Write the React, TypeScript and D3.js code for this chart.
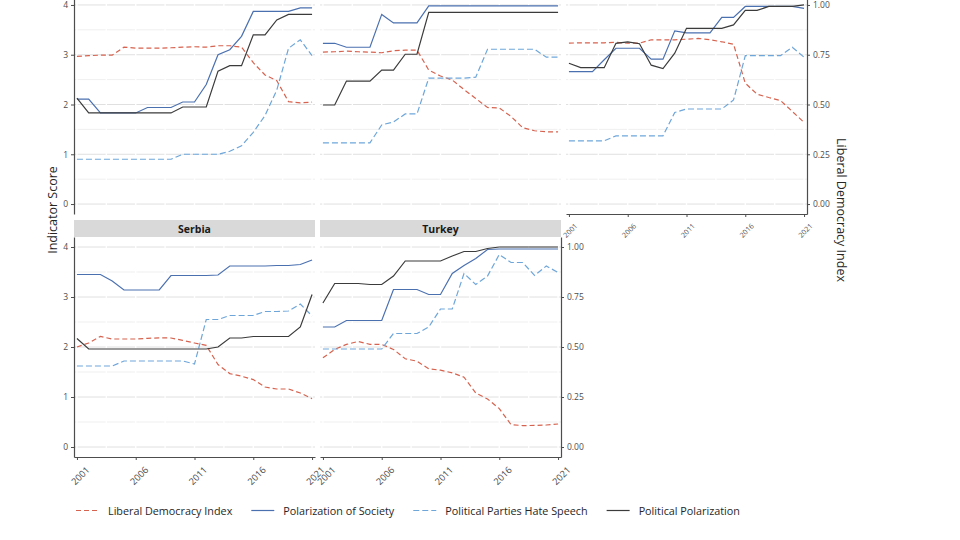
import * as d3 from "d3";
import { useEffect, useRef } from "react";

const years = [
  2001, 2002, 2003, 2004, 2005, 2006, 2007, 2008, 2009, 2010, 2011, 2012, 2013,
  2014, 2015, 2016, 2017, 2018, 2019, 2020, 2021,
];

const seriesNames = [
  "Liberal Democracy Index",
  "Polarization of Society",
  "Political Parties Hate Speech",
  "Political Polarization",
];
const seriesColors = ["#d6634f", "#4a70b0", "#6ea6da", "#3b3b3b"];
const seriesDashes = ["5,3", null, "6,3", null];

const yTicks = [0, 1, 2, 3, 4];
const ldiTicks = [0, 0.25, 0.5, 0.75, 1];
const xTicks = [2001, 2006, 2011, 2016, 2021];

// top-left panel (strip cut off)
const ldiA = [0.742, 0.745, 0.748, 0.748, 0.788, 0.783, 0.783, 0.783, 0.785, 0.788, 0.79, 0.788, 0.795, 0.795, 0.788, 0.71, 0.648, 0.62, 0.514, 0.508, 0.512];
const societyA = [2.11, 2.11, 1.83, 1.83, 1.83, 1.83, 1.94, 1.94, 1.94, 2.05, 2.05, 2.4, 3.0, 3.1, 3.37, 3.87, 3.87, 3.87, 3.87, 3.94, 3.94];
const hateA = [0.9, 0.9, 0.9, 0.9, 0.9, 0.9, 0.9, 0.9, 0.9, 1.0, 1.0, 1.0, 1.0, 1.06, 1.17, 1.44, 1.78, 2.29, 3.13, 3.3, 2.98];
const politicalA = [2.13, 1.83, 1.83, 1.83, 1.83, 1.83, 1.83, 1.83, 1.83, 1.95, 1.95, 1.95, 2.67, 2.78, 2.78, 3.4, 3.4, 3.7, 3.81, 3.81, 3.81];

// top-middle panel (strip cut off)
const ldiB = [0.763, 0.765, 0.768, 0.765, 0.763, 0.76, 0.77, 0.773, 0.773, 0.673, 0.643, 0.623, 0.575, 0.53, 0.485, 0.483, 0.44, 0.383, 0.368, 0.363, 0.363];
const societyB = [3.23, 3.23, 3.15, 3.15, 3.15, 3.81, 3.64, 3.64, 3.64, 3.98, 3.98, 3.98, 3.98, 3.98, 3.98, 3.98, 3.98, 3.98, 3.98, 3.98, 3.98];
const hateB = [1.23, 1.23, 1.23, 1.23, 1.23, 1.59, 1.65, 1.81, 1.81, 2.53, 2.53, 2.53, 2.53, 2.55, 3.11, 3.11, 3.11, 3.11, 3.11, 2.95, 2.95];
const politicalB = [1.99, 1.99, 2.47, 2.47, 2.47, 2.69, 2.69, 3.01, 3.01, 3.85, 3.85, 3.85, 3.85, 3.85, 3.85, 3.85, 3.85, 3.85, 3.85, 3.85, 3.85];

// top-right panel (strip cut off)
const ldiC = [0.808, 0.81, 0.81, 0.81, 0.812, 0.808, 0.808, 0.825, 0.825, 0.825, 0.828, 0.832, 0.825, 0.815, 0.803, 0.607, 0.552, 0.535, 0.52, 0.465, 0.41];
const societyC = [2.66, 2.66, 2.66, 2.9, 3.13, 3.13, 3.13, 2.91, 2.91, 3.48, 3.44, 3.44, 3.44, 3.75, 3.75, 3.97, 3.97, 3.97, 3.97, 3.97, 3.93];
const hateC = [1.27, 1.27, 1.27, 1.27, 1.37, 1.37, 1.37, 1.37, 1.37, 1.84, 1.91, 1.91, 1.91, 1.91, 2.09, 2.98, 2.98, 2.98, 2.98, 3.15, 2.95];
const politicalC = [2.83, 2.74, 2.74, 2.74, 3.23, 3.26, 3.22, 2.79, 2.72, 3.03, 3.53, 3.53, 3.53, 3.53, 3.6, 3.89, 3.89, 3.97, 3.97, 3.97, 4.0];

// Serbia
const ldiSerbia = [0.5, 0.52, 0.553, 0.54, 0.54, 0.54, 0.543, 0.546, 0.545, 0.533, 0.52, 0.508, 0.412, 0.367, 0.354, 0.337, 0.3, 0.29, 0.29, 0.27, 0.242];
const societySerbia = [3.45, 3.45, 3.45, 3.32, 3.14, 3.14, 3.14, 3.14, 3.43, 3.43, 3.43, 3.43, 3.44, 3.62, 3.62, 3.62, 3.62, 3.63, 3.63, 3.65, 3.74];
const hateSerbia = [1.62, 1.62, 1.62, 1.62, 1.72, 1.72, 1.72, 1.72, 1.72, 1.72, 1.66, 2.55, 2.55, 2.63, 2.63, 2.63, 2.71, 2.71, 2.72, 2.86, 2.62];
const politicalSerbia = [2.17, 1.96, 1.96, 1.96, 1.96, 1.96, 1.96, 1.96, 1.96, 1.96, 1.96, 1.96, 2.0, 2.18, 2.18, 2.21, 2.21, 2.21, 2.21, 2.4, 3.05];

// Turkey
const ldiTurkey = [0.446, 0.488, 0.513, 0.528, 0.513, 0.513, 0.488, 0.441, 0.429, 0.391, 0.384, 0.371, 0.349, 0.27, 0.24, 0.192, 0.112, 0.107, 0.108, 0.11, 0.115];
const societyTurkey = [2.4, 2.4, 2.53, 2.53, 2.53, 2.53, 3.15, 3.15, 3.15, 3.05, 3.05, 3.47, 3.63, 3.77, 3.95, 3.96, 3.96, 3.96, 3.96, 3.96, 3.96];
const hateTurkey = [1.96, 1.96, 1.96, 1.96, 1.96, 1.96, 2.27, 2.27, 2.27, 2.4, 2.76, 2.76, 3.47, 3.25, 3.42, 3.85, 3.69, 3.69, 3.43, 3.62, 3.49];
const politicalTurkey = [2.88, 3.27, 3.27, 3.27, 3.25, 3.25, 3.42, 3.72, 3.72, 3.72, 3.72, 3.82, 3.91, 3.91, 3.97, 4.0, 4.0, 4.0, 4.0, 4.0, 4.0];

const panels = [
  { name: "", row: 0, col: 0, series: [ldiA, societyA, hateA, politicalA] },
  { name: "", row: 0, col: 1, series: [ldiB, societyB, hateB, politicalB] },
  { name: "", row: 0, col: 2, series: [ldiC, societyC, hateC, politicalC] },
  { name: "Serbia", row: 1, col: 0, series: [ldiSerbia, societySerbia, hateSerbia, politicalSerbia] },
  { name: "Turkey", row: 1, col: 1, series: [ldiTurkey, societyTurkey, hateTurkey, politicalTurkey] },
];

const width = 960;
const height = 540;
const font = "'Open Sans', sans-serif";

export default function App() {
  const svgRef = useRef<SVGSVGElement>(null);

  useEffect(() => {
    if (!svgRef.current) return;
    const svg = d3.select(svgRef.current);
    svg.selectAll("*").remove();

    const cols = [
      [74, 315],
      [320, 561],
      [566, 807],
    ];
    const rows = [
      { top: -5, bottom: 214 },
      { top: 237, bottom: 457 },
    ];
    const stripHeight = 17;
    const lastCol = [2, 1];

    panels.forEach((p) => {
      const [x0, x1] = cols[p.col];
      const { top, bottom } = rows[p.row];

      const x = d3.scaleLinear().domain([2000.75, 2021.25]).range([x0, x1]);
      const y = d3.scaleLinear().domain([-0.2, 4.2]).range([bottom, top]);
      const yL = d3.scaleLinear().domain([-0.05, 1.05]).range([bottom, top]);

      const g = svg.append("g");

      // strip
      if (p.name) {
        g.append("rect")
          .attr("x", x0)
          .attr("y", top - stripHeight)
          .attr("width", x1 - x0)
          .attr("height", stripHeight)
          .attr("fill", "#d9d9d9");
        g.append("text")
          .attr("x", (x0 + x1) / 2)
          .attr("y", top - stripHeight / 2)
          .attr("text-anchor", "middle")
          .attr("dominant-baseline", "central")
          .style("font-family", font)
          .style("font-size", "10.5px")
          .style("font-weight", "bold")
          .style("fill", "#1a1a1a")
          .text(p.name);
      }

      // horizontal grid (major + minor)
      g.selectAll(".grid")
        .data(d3.range(0, 4.01, 0.5))
        .enter()
        .append("line")
        .attr("x1", x0)
        .attr("x2", x1)
        .attr("y1", (d) => y(d))
        .attr("y2", (d) => y(d))
        .attr("stroke", (d) => (d % 1 === 0 ? "#e0e0e0" : "#ebebeb"))
        .attr("stroke-width", (d) => (d % 1 === 0 ? 1 : 0.8));

      // white vertical grid
      g.selectAll(".vgrid")
        .data(d3.range(2001, 2021.01, 2.5))
        .enter()
        .append("line")
        .attr("x1", (d) => x(d))
        .attr("x2", (d) => x(d))
        .attr("y1", top)
        .attr("y2", bottom)
        .attr("stroke", "white")
        .attr("stroke-width", 1.4);

      // series lines
      p.series.forEach((values, i) => {
        const yy = i === 0 ? yL : y;
        const line = d3
          .line<number>()
          .x((_, j) => x(years[j]))
          .y((d) => yy(d));
        g.append("path")
          .datum(values)
          .attr("d", line)
          .attr("fill", "none")
          .attr("stroke", seriesColors[i])
          .attr("stroke-width", 1.2)
          .attr("stroke-dasharray", seriesDashes[i]);
      });

      const styleAxis = (a: d3.Selection<SVGGElement, unknown, null, undefined>) => {
        a.select(".domain").attr("stroke", "#4d4d4d").attr("stroke-width", 1.2);
        a.selectAll(".tick line").attr("stroke", "#4d4d4d").attr("stroke-width", 1);
        a.selectAll("text")
          .style("font-family", font)
          .style("font-size", "8.5px")
          .style("fill", "#4d4d4d");
      };

      // left axis
      if (p.col === 0) {
        const a = g
          .append("g")
          .attr("transform", `translate(${x0},0)`)
          .call(
            d3
              .axisLeft(y)
              .tickValues(yTicks)
              .tickFormat(d3.format("d"))
              .tickSize(3)
              .tickSizeOuter(0)
              .tickPadding(3),
          );
        styleAxis(a);
      }

      // right (secondary) axis
      if (p.col === lastCol[p.row]) {
        const a = g
          .append("g")
          .attr("transform", `translate(${x1},0)`)
          .call(
            d3
              .axisRight(yL)
              .tickValues(ldiTicks)
              .tickFormat(d3.format(".2f"))
              .tickSize(3)
              .tickSizeOuter(0)
              .tickPadding(3),
          );
        styleAxis(a);
      }

      // bottom axis
      if (p.row === 1 || p.col === 2) {
        const small = p.row === 0;
        const a = g
          .append("g")
          .attr("transform", `translate(0,${bottom})`)
          .call(d3.axisBottom(x).tickValues(xTicks).tickFormat(d3.format("d")).tickSize(3).tickSizeOuter(0));
        styleAxis(a);
        a.selectAll("text")
          .attr("x", 0)
          .attr("y", 0)
          .attr("dy", null)
          .attr("text-anchor", "end")
          .attr("dominant-baseline", "hanging")
          .attr("transform", small ? "translate(4,8) rotate(-45)" : "translate(7,8) rotate(-45)")
          .style("font-size", small ? "7.2px" : "9.2px");
      }
    });

    // axis titles
    svg
      .append("text")
      .attr("transform", "translate(52.5,210) rotate(-90)")
      .attr("text-anchor", "middle")
      .attr("dominant-baseline", "central")
      .style("font-family", font)
      .style("font-size", "12.5px")
      .style("fill", "#262626")
      .text("Indicator Score");

    svg
      .append("text")
      .attr("transform", "translate(841.5,210) rotate(90)")
      .attr("text-anchor", "middle")
      .attr("dominant-baseline", "central")
      .style("font-family", font)
      .style("font-size", "12.5px")
      .style("fill", "#262626")
      .text("Liberal Democracy Index");

    // legend
    const legend = svg.append("g").attr("transform", "translate(76,510.5)");
    let cursor = 0;
    seriesNames.forEach((name, i) => {
      const item = legend.append("g").attr("transform", `translate(${cursor},0)`);
      item
        .append("line")
        .attr("x1", 0)
        .attr("x2", 23)
        .attr("stroke", seriesColors[i])
        .attr("stroke-width", 1.2)
        .attr("stroke-dasharray", seriesDashes[i]);
      const t = item
        .append("text")
        .attr("x", 32)
        .attr("dominant-baseline", "central")
        .style("font-family", font)
        .style("font-size", "10.8px")
        .style("fill", "#262626")
        .text(name);
      const w = (t.node() as SVGTextElement).getComputedTextLength();
      cursor += 32 + w + 19;
    });
  }, []);

  return (
    <svg
      ref={svgRef}
      width={width}
      height={height}
      style={{ position: "absolute", left: 0, top: 0, background: "white" }}
    />
  );
}
